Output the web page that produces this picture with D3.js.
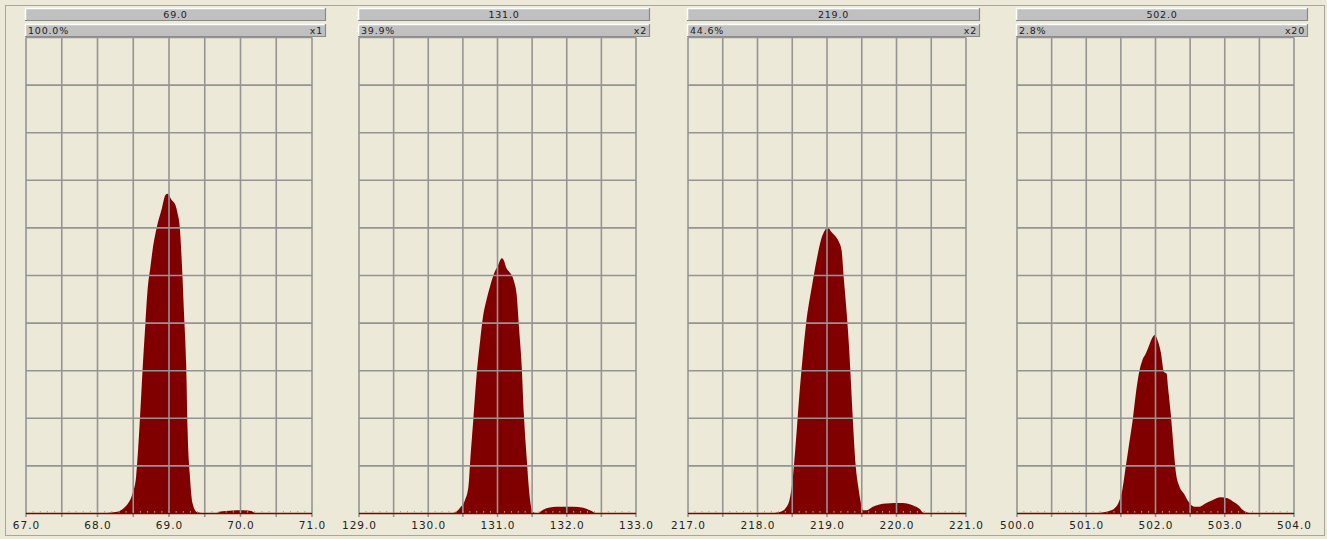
<!DOCTYPE html>
<html><head><meta charset="utf-8">
<script src="https://cdn.jsdelivr.net/npm/d3@7"></script>
<style>
html,body{margin:0;padding:0;background:#ece9d8;}
svg{display:block;}
text{font-family:"DejaVu Sans",Verdana,sans-serif;fill:#222;}
</style></head><body>
<svg id="c" width="1327" height="539"></svg>
<script>
// ---- data ----
const titles = ["69.0", "131.0", "219.0", "502.0"];
const percents = ["100.0%", "39.9%", "44.6%", "2.8%"];
const multipliers = ["x1", "x2", "x2", "x20"];
const xDomains = [[67, 71], [129, 133], [217, 221], [500, 504]];
const yTicks = [0,10,20,30,40,50,60,70,80,90,100];

const p1X = [67.0,68.02,68.26,68.44,68.49,68.54,68.57,68.61,68.63,68.67,68.70,68.74,68.77,68.83,68.90,68.95,68.98,69.04,69.09,69.12,69.15,69.18,69.21,69.24,69.26,69.29,69.33,69.39,69.5,69.65,69.72,69.85,69.95,70.05,70.15,70.22,71.0];
const p1Y = [0,0,0.3,2.4,4.2,7.7,14.0,24.5,30.1,39.9,46.9,51.8,55.3,60.2,64.1,66.9,67.2,65.8,64.8,63.0,60.2,52.5,42.0,31.5,17.5,8.4,2.1,0.3,0,0,0.4,0.6,0.7,0.7,0.5,0,0];

const p2X = [129.0,130.17,130.36,130.47,130.53,130.58,130.61,130.65,130.70,130.75,130.79,130.84,130.89,130.95,131.01,131.06,131.09,131.13,131.19,131.24,131.28,131.31,131.35,131.38,131.42,131.46,131.51,131.57,131.66,131.85,132.09,132.24,132.36,132.43,133.0];
const p2Y = [0,0,0.1,1.4,2.8,5.6,11.9,19.6,29.4,36.4,41.3,44.8,47.6,50.4,52.2,53.6,53.2,51.5,50.4,48.7,45.5,39.2,30.8,21.0,11.9,4.2,0.3,0,0.8,1.4,1.4,1.2,0.5,0,0];

const p3X = [217.0,218.18,218.32,218.42,218.47,218.51,218.55,218.60,218.65,218.70,218.78,218.85,218.92,218.97,219.01,219.06,219.13,219.17,219.21,219.24,219.28,219.32,219.35,219.38,219.41,219.45,219.48,219.52,219.57,219.66,219.85,220.09,220.24,220.33,220.39,220.43,221.0];
const p3Y = [0,0,0.3,1.4,3.5,7.7,14.7,24.5,32.9,40.0,47.5,53.2,57.8,59.5,60.2,59.2,58.1,57.1,55.3,49.7,42.7,34.3,25.9,17.5,10.5,5.6,2.8,0.7,0.7,1.4,2.1,2.2,1.7,1.0,0.1,0,0];

const p4X = [500.0,500.90,501.18,501.33,501.43,501.48,501.52,501.57,501.62,501.67,501.71,501.76,501.81,501.86,501.91,501.95,501.99,502.03,502.08,502.12,502.16,502.18,502.22,502.26,502.29,502.34,502.41,502.48,502.56,502.63,502.72,502.82,502.94,503.04,503.13,503.20,503.28,503.35,503.50,504.0];
const p4Y = [0,0,0.1,0.5,1.4,2.8,4.9,9.8,14.7,19.6,24.5,29.4,32.2,33.6,35.4,36.8,37.5,36.4,33.6,29.8,29.4,26.6,21.0,14.0,9.1,5.9,4.2,2.4,1.4,1.4,2.1,2.8,3.4,3.2,2.4,1.7,0.5,0.1,0,0];

const seriesX = [p1X, p2X, p3X, p4X];
const seriesY = [p1Y, p2Y, p3Y, p4Y];

// ---- layout ----
const plotLefts  = [26, 359, 688, 1017];
const plotRights = [312, 636, 966, 1294];
const plotTop = 37.5, plotBottom = 513.5;
const headerPad = 14;

const svg = d3.select("#c");
svg.append("rect").attr("x",5.5).attr("y",5.5).attr("width",1319).attr("height",530)
  .attr("fill","#ece9d8").attr("stroke","#a7a69c").attr("stroke-width",1);

function bevelBar(g, x, y, w, h){
  g.append("rect").attr("x",x).attr("y",y).attr("width",w).attr("height",h).attr("fill","#c0c0c0");
  g.append("path").attr("d",`M${x+0.5},${y+h} V${y+0.5} H${x+w}`).attr("stroke","#ffffff").attr("fill","none").attr("stroke-width",1.5);
  g.append("path").attr("d",`M${x+w-0.5},${y} V${y+h-0.5} H${x}`).attr("stroke","#8a8a8a").attr("fill","none").attr("stroke-width",1.2);
}

for (let i = 0; i < 4; i++) {
  const L = plotLefts[i], R = plotRights[i];
  const g = svg.append("g");
  const x = d3.scaleLinear().domain(xDomains[i]).range([L, R]);
  const y = d3.scaleLinear().domain([0, 100]).range([plotBottom, plotTop]);

  // headers
  const hx = L - 1, hw = (R + headerPad) - hx;
  bevelBar(g, hx, 8, hw, 13);
  bevelBar(g, hx, 24, hw, 13);
  g.append("text").attr("x", hx + hw/2).attr("y", 18).attr("text-anchor","middle")
    .attr("font-size", 9.5).attr("letter-spacing", 0.8).text(titles[i]);
  g.append("text").attr("x", hx + 3).attr("y", 34)
    .attr("font-size", 9.5).attr("letter-spacing", 0.8).text(percents[i]);
  g.append("text").attr("x", hx + hw - 3).attr("y", 34).attr("text-anchor","end")
    .attr("font-size", 9.5).attr("letter-spacing", 0.8).text(multipliers[i]);

  // area
  const pts = seriesX[i].map((v, k) => [v, seriesY[i][k]]);
  const area = d3.area().x(d => x(d[0])).y0(y(0)).y1(d => y(d[1])).curve(d3.curveMonotoneX);
  g.append("path").datum(pts).attr("d", area).attr("fill", "#800000");

  // grid
  const majors = d3.range(xDomains[i][0], xDomains[i][1] + 0.001, 0.5);
  g.selectAll(".vg").data(majors).enter().append("line")
    .attr("x1", d => x(d)).attr("x2", d => x(d))
    .attr("y1", plotTop).attr("y2", plotBottom + 3.5)
    .attr("stroke", "#949494").attr("stroke-width", 1.6);
  g.selectAll(".hg").data(yTicks.slice(1)).enter().append("line")
    .attr("x1", L).attr("x2", R).attr("y1", d => y(d)).attr("y2", d => y(d))
    .attr("stroke", "#949494").attr("stroke-width", 1.6);

  // baseline
  g.append("line").attr("x1", L).attr("x2", R).attr("y1", plotBottom).attr("y2", plotBottom)
    .attr("stroke", "#800000").attr("stroke-width", 1.6);
  // minor ticks
  const minors = d3.range(xDomains[i][0], xDomains[i][1] + 0.001, 0.1);
  g.selectAll(".mt").data(minors).enter().append("line")
    .attr("x1", d => x(d)).attr("x2", d => x(d))
    .attr("y1", plotBottom - 2.5).attr("y2", plotBottom - 0.8)
    .attr("stroke", "#a0a0a0").attr("stroke-width", 1);

  // tick labels
  const axis = d3.axisBottom(x).tickValues(d3.range(xDomains[i][0], xDomains[i][1] + 0.001, 1))
    .tickFormat(d3.format(".1f")).tickSize(0).tickPadding(0);
  const ag = g.append("g").attr("transform", `translate(0,${plotBottom + 15})`).call(axis);
  ag.select(".domain").remove();
  ag.selectAll("text").attr("font-size", 10.5).attr("letter-spacing", 1)
    .attr("font-family", "DejaVu Sans, Verdana, sans-serif").attr("fill", "#222").attr("dy", 0);
}
</script></body></html>
